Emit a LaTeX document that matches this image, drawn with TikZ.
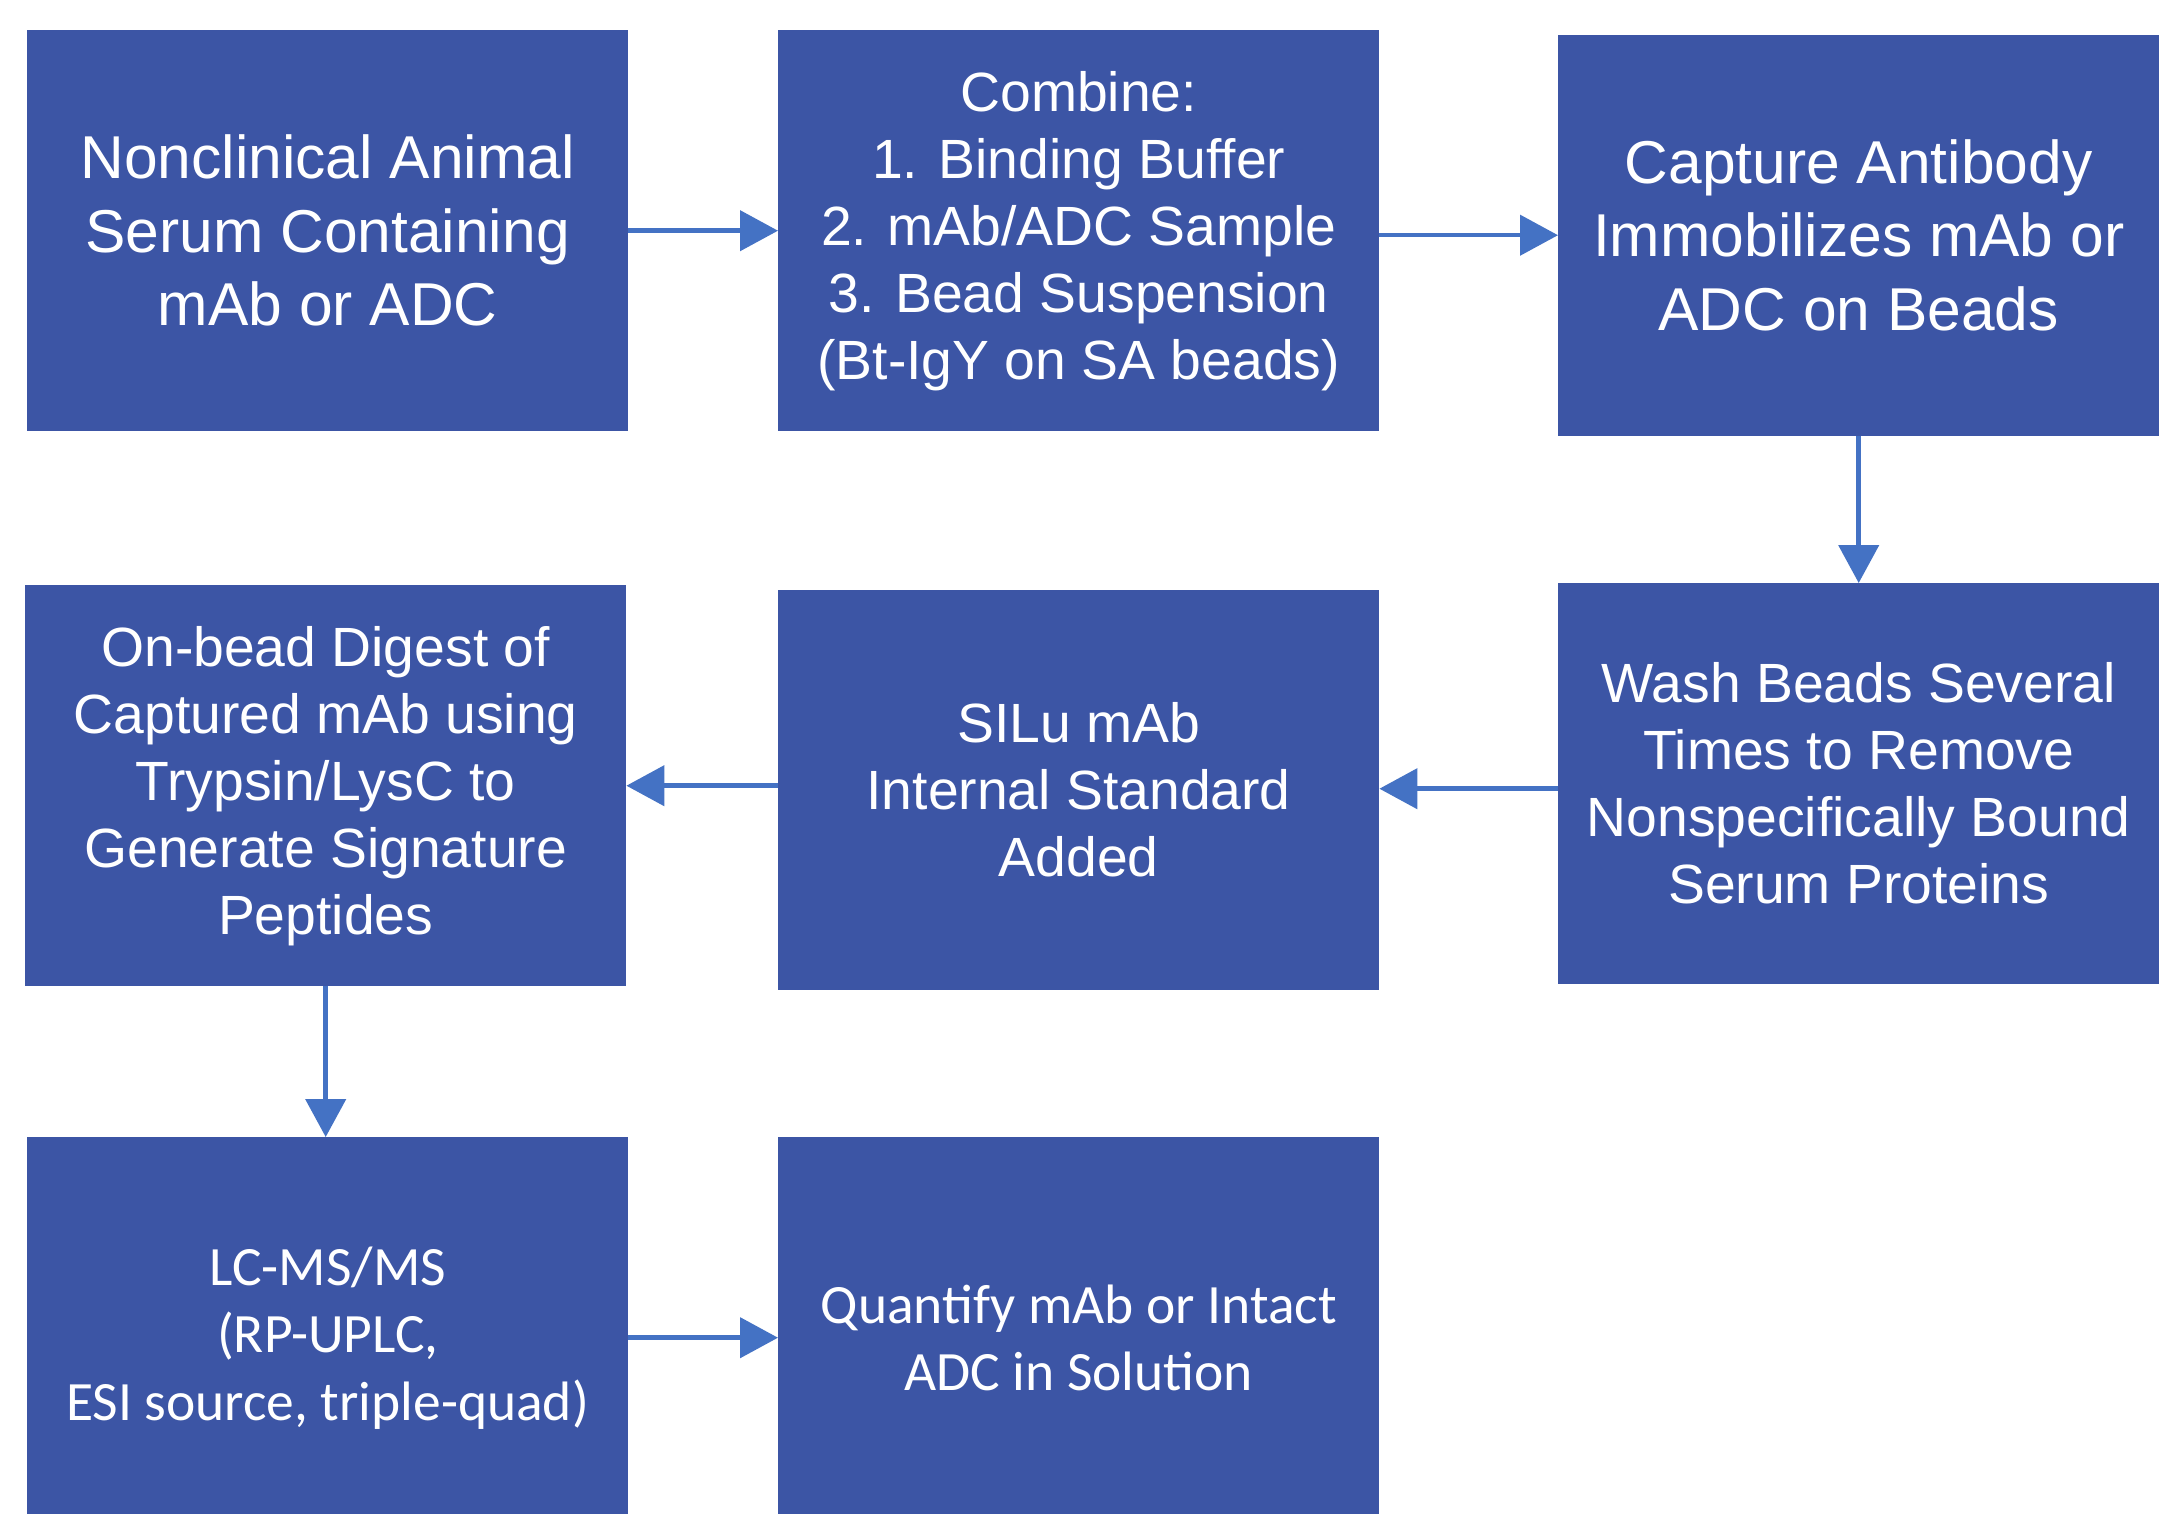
\documentclass[tikz,border=0pt]{standalone}
\usepackage{fontspec}
\setmainfont{Liberation Sans}
\newfontfamily\calib{Carlito}
\usetikzlibrary{arrows.meta}
\definecolor{boxblue}{HTML}{3C55A5}
\definecolor{arrowblue}{HTML}{4472C4}
\begin{document}
\begin{tikzpicture}[x=1pt,y=-1pt,
  stepbox/.style={rectangle, fill=boxblue, text=white, inner sep=0pt,
    minimum width=601pt, minimum height=401pt, anchor=north west, align=center,
    font=\fontsize{55.3}{67}\selectfont},
  bigtext/.style={font=\fontsize{60.5}{73.5}\selectfont},
  caltext/.style={font=\calib\fontsize{55.5}{67.5}\selectfont},
  flow/.style={draw=arrowblue, line width=4.5pt,
    -{Triangle[length=38pt,width=40pt]}}]
\useasboundingbox (0,0) rectangle (2160,1513);
\clip (0,0) rectangle (2160,1513);
\fill[white] (0,0) rectangle (2160,1513);

\node[stepbox,bigtext] (b1) at (27,30) {Nonclinical Animal\\Serum Containing\\mAb or ADC};
\node[stepbox] (b2) at (778,30) {Combine:\\1. Binding Buffer\\2. mAb/ADC Sample\\3. Bead Suspension\\(Bt-IgY on SA beads)};
\node[stepbox,bigtext] (b3) at (1558,34.5) {Capture Antibody\\Immobilizes mAb or\\ADC on Beads};
\node[stepbox] (b4) at (1558,583) {Wash Beads Several\\Times to Remove\\Nonspecifically Bound\\Serum Proteins};
\node[stepbox, minimum height=400pt] (b5) at (778,590) {SILu mAb\\Internal Standard\\Added};
\node[stepbox] (b6) at (25,585) {On-bead Digest of\\Captured mAb using\\Trypsin/LysC to\\Generate Signature\\Peptides};
\node[stepbox,caltext] (b7) at (27,1137) {LC-MS/MS\\(RP-UPLC,\\ESI source, triple-quad)};
\node[stepbox,caltext] (b8) at (778,1137) {Quantify mAb or Intact\\ADC in Solution};

\draw[flow] (b1.east) -- (b2.west);
\draw[flow] (b2.east |- b3.west) -- (b3.west);
\draw[flow] (b3.south) -- (b4.north);
\draw[flow] ([yshift=-5pt]b4.west) -- ([yshift=-5pt]b5.east |- b4.west);
\draw[flow] (b5.west |- b6.east) -- (b6.east);
\draw[flow] (b6.south) -- (b6.south |- b7.north);
\draw[flow] (b7.east) -- (b8.west);
\end{tikzpicture}
\end{document}
